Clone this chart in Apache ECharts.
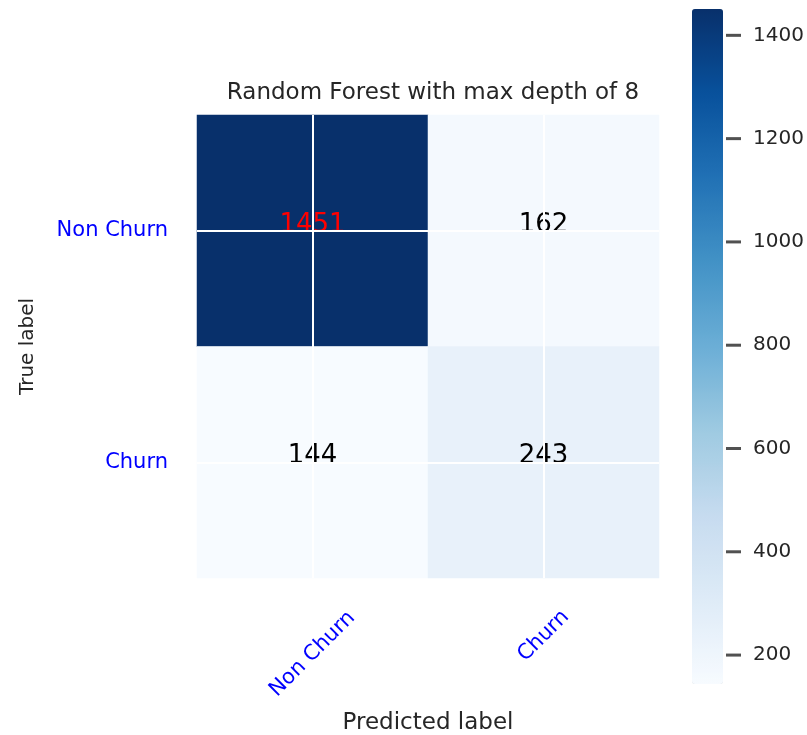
<!DOCTYPE html>
<html>
<head>
<meta charset="utf-8">
<script src="https://cdn.jsdelivr.net/npm/echarts@6/dist/echarts.min.js"></script>
<style>
  html, body { margin: 0; padding: 0; background: #ffffff; }
  #chart { width: 807px; height: 735px; }
</style>
</head>
<body>
<div id="chart"></div>
<script>
// Confusion matrix of the random forest classifier
const chartTitle = 'Random Forest with max depth of 8';
const classNames = ['Non Churn', 'Churn'];
// rows = true label, columns = predicted label
const confusion = [
  [1451, 162],
  [144, 243]
];
const colorbarTicks = [200, 400, 600, 800, 1000, 1200, 1400];

// matplotlib "Blues" colormap stops
const blues = ['#f7fbff', '#deebf7', '#c6dbef', '#9ecae1', '#6baed6',
               '#4292c6', '#2171b5', '#08519c', '#08306b'];

const flat = confusion.flat();
const vMin = Math.min(...flat);
const vMax = Math.max(...flat);
const thresh = vMax / 2;

const cells = [];
confusion.forEach((row, i) => {
  row.forEach((v, j) => {
    cells.push({
      value: [j, i, v],
      label: { color: v > thresh ? '#ff0000' : '#000000' }
    });
  });
});

const FONT = 'DejaVu Sans';
const INK = '#262626';

// rotated tick label of the predicted-class axis; each class gets its own
// axis so the label can sit at its own distance below the matrix
function predictedAxis(k, margin, withName) {
  return {
    type: 'category',
    gridIndex: 0,
    data: classNames,
    position: 'bottom',
    name: withName ? 'Predicted label' : '',
    nameLocation: 'middle',
    nameGap: 134,
    nameTextStyle: { fontFamily: FONT, fontSize: 23, color: INK },
    axisLine: { show: false },
    axisTick: { show: false },
    splitLine: { show: false },
    axisLabel: {
      interval: (idx) => idx === k,
      rotate: 45,
      align: 'center',
      verticalAlign: 'middle',
      margin: margin,
      fontFamily: FONT,
      fontSize: 21,
      color: '#0000ff'
    }
  };
}

const chart = echarts.init(document.getElementById('chart'), null, { renderer: 'canvas' });
chart.setOption({
  backgroundColor: '#ffffff',
  animation: false,
  title: {
    text: chartTitle,
    left: 428,
    top: 77,
    textAlign: 'center',
    textStyle: { fontFamily: FONT, fontSize: 23, fontWeight: 'normal', color: INK }
  },
  grid: [
    { left: 197, top: 115, width: 462, height: 463, outerBoundsMode: 'none', containLabel: false },
    // colour bar plus its tick marks
    { left: 692, top: 9, width: 49, height: 675, outerBoundsMode: 'none', containLabel: false }
  ],
  xAxis: [
    predictedAxis(0, 76, true),
    { type: 'value', gridIndex: 1, show: false, min: 0, max: 1 },
    predictedAxis(1, 58, false)
  ],
  yAxis: [
    {
      type: 'category',
      gridIndex: 0,
      data: classNames,
      inverse: true,
      name: 'True label',
      nameLocation: 'middle',
      nameGap: 159,
      nameTextStyle: { fontFamily: FONT, fontSize: 20, color: INK },
      axisLine: { show: false },
      axisTick: { show: false },
      splitLine: { show: false },
      axisLabel: {
        margin: 29,
        padding: [0, 0, 4, 0],
        fontFamily: FONT,
        fontSize: 21,
        color: '#0000ff'
      }
    },
    {
      type: 'value',
      gridIndex: 1,
      position: 'right',
      min: vMin,
      max: vMax,
      axisLine: { show: false },
      splitLine: { show: false },
      axisTick: { show: false },
      axisLabel: {
        margin: 12,
        customValues: colorbarTicks,
        formatter: v => String(v),
        fontFamily: FONT,
        fontSize: 20,
        color: INK
      }
    }
  ],
  visualMap: {
    type: 'continuous',
    seriesIndex: 0,
    min: vMin,
    max: vMax,
    calculable: false,
    orient: 'vertical',
    left: 692,
    top: 9,
    padding: 0,
    itemWidth: 31,
    itemHeight: 675,
    text: null,
    showLabel: false,
    inRange: { color: blues }
  },
  series: [
    {
      type: 'heatmap',
      xAxisIndex: 0,
      yAxisIndex: 0,
      data: cells,
      itemStyle: { borderWidth: 0 },
      emphasis: { disabled: true },
      label: {
        show: true,
        fontFamily: FONT,
        fontSize: 26,
        offset: [0, -6],
        formatter: p => String(p.value[2])
      },
      markLine: {
        silent: true,
        symbol: 'none',
        label: { show: false },
        emphasis: { disabled: true },
        lineStyle: { color: '#ffffff', width: 2, type: 'solid', opacity: 1 },
        data: [
          { xAxis: 0 }, { xAxis: 1 },
          { yAxis: 0 }, { yAxis: 1 }
        ]
      }
    },
    {
      // colour-bar tick marks, one per tick value on the right edge of the bar strip
      type: 'scatter',
      xAxisIndex: 1,
      yAxisIndex: 1,
      silent: true,
      clip: false,
      symbol: 'rect',
      symbolSize: [15, 3],
      symbolOffset: [-7.5, 0],
      itemStyle: { color: INK },
      data: colorbarTicks.map(t => [1, t])
    }
  ]
});
</script>
</body>
</html>
